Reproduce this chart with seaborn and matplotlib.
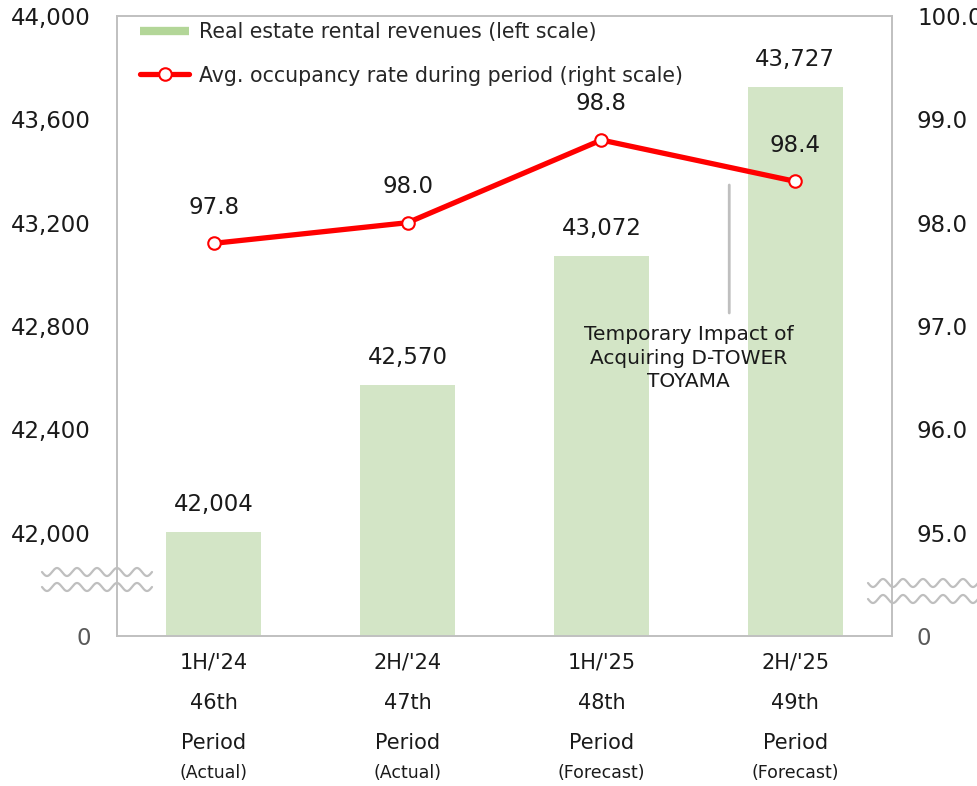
import numpy as np
import matplotlib
matplotlib.use("Agg")
import matplotlib.pyplot as plt
from matplotlib.lines import Line2D
import matplotlib.transforms as mtransforms
import seaborn as sns

# ---------------- data ----------------
half_labels = ["1H/'24", "2H/'24", "1H/'25", "2H/'25"]
period_labels = ["46th", "47th", "48th", "49th"]
period_word = ["Period", "Period", "Period", "Period"]
status_labels = ["(Actual)", "(Actual)", "(Forecast)", "(Forecast)"]
revenues = [42004, 42570, 43072, 43727]
occupancy = [97.8, 98.0, 98.8, 98.4]
left_ticks = [0, 42000, 42400, 42800, 43200, 43600, 44000]
right_ticks = [0, 95, 96, 97, 98, 99, 100]
legend_labels = ["Real estate rental revenues (left scale)",
                 "Avg. occupancy rate during period (right scale)"]
note_text = "Temporary Impact of\nAcquiring D-TOWER\nTOYAMA"

# ---------------- style ----------------
sns.set_style("white")
plt.rcParams["font.family"] = ["DejaVu Sans"]

W, H = 978, 786
fig = plt.figure(figsize=(W / 100, H / 100), dpi=100)
ax_l, ax_r, ax_t, ax_b = 117, 892, 16, 636
ax = fig.add_axes([ax_l / W, 1 - ax_b / H, (ax_r - ax_l) / W, (ax_b - ax_t) / H])

# broken-axis scales (0 .. break compressed to one tick step)
def fwd_left(v):
    v = np.asarray(v, dtype=float)
    return np.where(v >= 42000, v - 41600, v * 400.0 / 42000.0)

def inv_left(y):
    y = np.asarray(y, dtype=float)
    return np.where(y >= 400, y + 41600, y * 42000.0 / 400.0)

def fwd_right(v):
    v = np.asarray(v, dtype=float)
    return np.where(v >= 95, v - 94, v / 95.0)

def inv_right(y):
    y = np.asarray(y, dtype=float)
    return np.where(y >= 1, y + 94, y * 95.0)

bar_color = "#d3e5c6"
legend_bar_color = "#b3d698"
red = "#ff0000"
grey = "#c0c0c0"

sns.barplot(x=half_labels, y=revenues, color=bar_color, saturation=1,
            width=0.49, ax=ax, edgecolor="none")
ax.set_yscale("function", functions=(fwd_left, inv_left))
ax.set_ylim(0, 44000)
ax.set_xlim(-0.5, 3.5)
ax.set_yticks(left_ticks)
ax.set_yticklabels([f"{t:,.0f}" for t in left_ticks])
ax.tick_params(axis="y", length=0, pad=19, labelsize=16.5, labelcolor="#1a1a1a")
ax.get_yticklabels()[0].set_color("#595959")
ax.set_xticks(range(len(half_labels)))
ax.set_xticklabels([])
ax.tick_params(axis="x", length=0)
ax.set_xlabel("")
ax.set_ylabel("")
for sp in ax.spines.values():
    sp.set_color(grey)
    sp.set_linewidth(1.2)

ax.bar_label(ax.containers[0], labels=[f"{v:,.0f}" for v in revenues],
             padding=11.5, fontsize=16.5, color="#1a1a1a")

# right axis: occupancy line
ax2 = ax.twinx()
xpos = np.arange(len(occupancy))
sns.lineplot(x=xpos, y=occupancy, ax=ax2, color=red, linewidth=3.8,
             marker="o", markersize=9, markerfacecolor="white",
             markeredgecolor=red, markeredgewidth=1.5, sort=False, legend=False)
ax2.set_yscale("function", functions=(fwd_right, inv_right))
ax2.set_ylim(0, 100)
ax2.set_yticks(right_ticks)
ax2.set_yticklabels(["0"] + [f"{t:.1f}" for t in right_ticks[1:]])
ax2.tick_params(axis="y", length=0, pad=18, labelsize=16.5, labelcolor="#1a1a1a")
ax2.get_yticklabels()[0].set_color("#595959")
ax2.set_ylabel("")
for sp in ax2.spines.values():
    sp.set_color(grey)
    sp.set_linewidth(1.2)

for x, v in zip(xpos, occupancy):
    ax2.annotate(f"{v:.1f}", xy=(x, v), xytext=(0, 26), textcoords="offset points",
                 ha="center", va="center", fontsize=16.5, color="#1a1a1a")

# category labels
for i in range(len(half_labels)):
    for txt, off, fs in [(half_labels[i], 19.4, 15), (period_labels[i], 48.2, 15),
                         (period_word[i], 77.0, 15), (status_labels[i], 98.6, 12.5)]:
        ax.annotate(txt, xy=(i, 0), xycoords=("data", "axes fraction"),
                    xytext=(0, -off), textcoords="offset points",
                    ha="center", va="center", fontsize=fs, color="#1a1a1a",
                    annotation_clip=False)

# note with leader line
ax2.annotate("", xy=(2.66, (ax_b - 185) / (ax_b - ax_t)),
             xycoords=("data", "axes fraction"),
             xytext=(2.66, (ax_b - 313) / (ax_b - ax_t)),
             textcoords=("data", "axes fraction"),
             arrowprops=dict(arrowstyle="-", color="#bfbfbf", lw=2.0,
                             shrinkA=0, shrinkB=0))
ax2.text(2.45, (ax_b - 358) / (ax_b - ax_t), note_text,
         transform=mtransforms.blended_transform_factory(ax.transData, ax.transAxes),
         ha="center", va="center", fontsize=14.5, color="#1a1a1a",
         linespacing=1.3, multialignment="center")

# legend
handles = [Line2D([], [], color=legend_bar_color, lw=6, solid_capstyle="butt"),
           Line2D([], [], color=red, lw=3.8, marker="o", markersize=9,
                  markerfacecolor="white", markeredgecolor=red, markeredgewidth=1.5)]
ax2.legend(handles, legend_labels, loc="upper left",
           bbox_to_anchor=((140 - ax_l) / (ax_r - ax_l), (ax_b - 22) / (ax_b - ax_t)),
           frameon=False, fontsize=14.8, handlelength=2.4, handletextpad=0.45,
           labelspacing=1.15, borderaxespad=0, borderpad=0)

# axis break marks
def wave(x0, x1, yc):
    xs = np.linspace(x0, x1, 300)
    ys = yc + 4.0 * np.sin((xs - x0) / 20.0 * 2 * np.pi)
    fig.add_artist(Line2D(xs / W, 1 - ys / H, transform=fig.transFigure,
                          color="#bfbfbf", lw=1.6))

for yc in (572, 587):
    wave(42, 152, yc)
for yc in (583, 599):
    wave(868, 978, yc)

fig.savefig("out.png", dpi=100)
